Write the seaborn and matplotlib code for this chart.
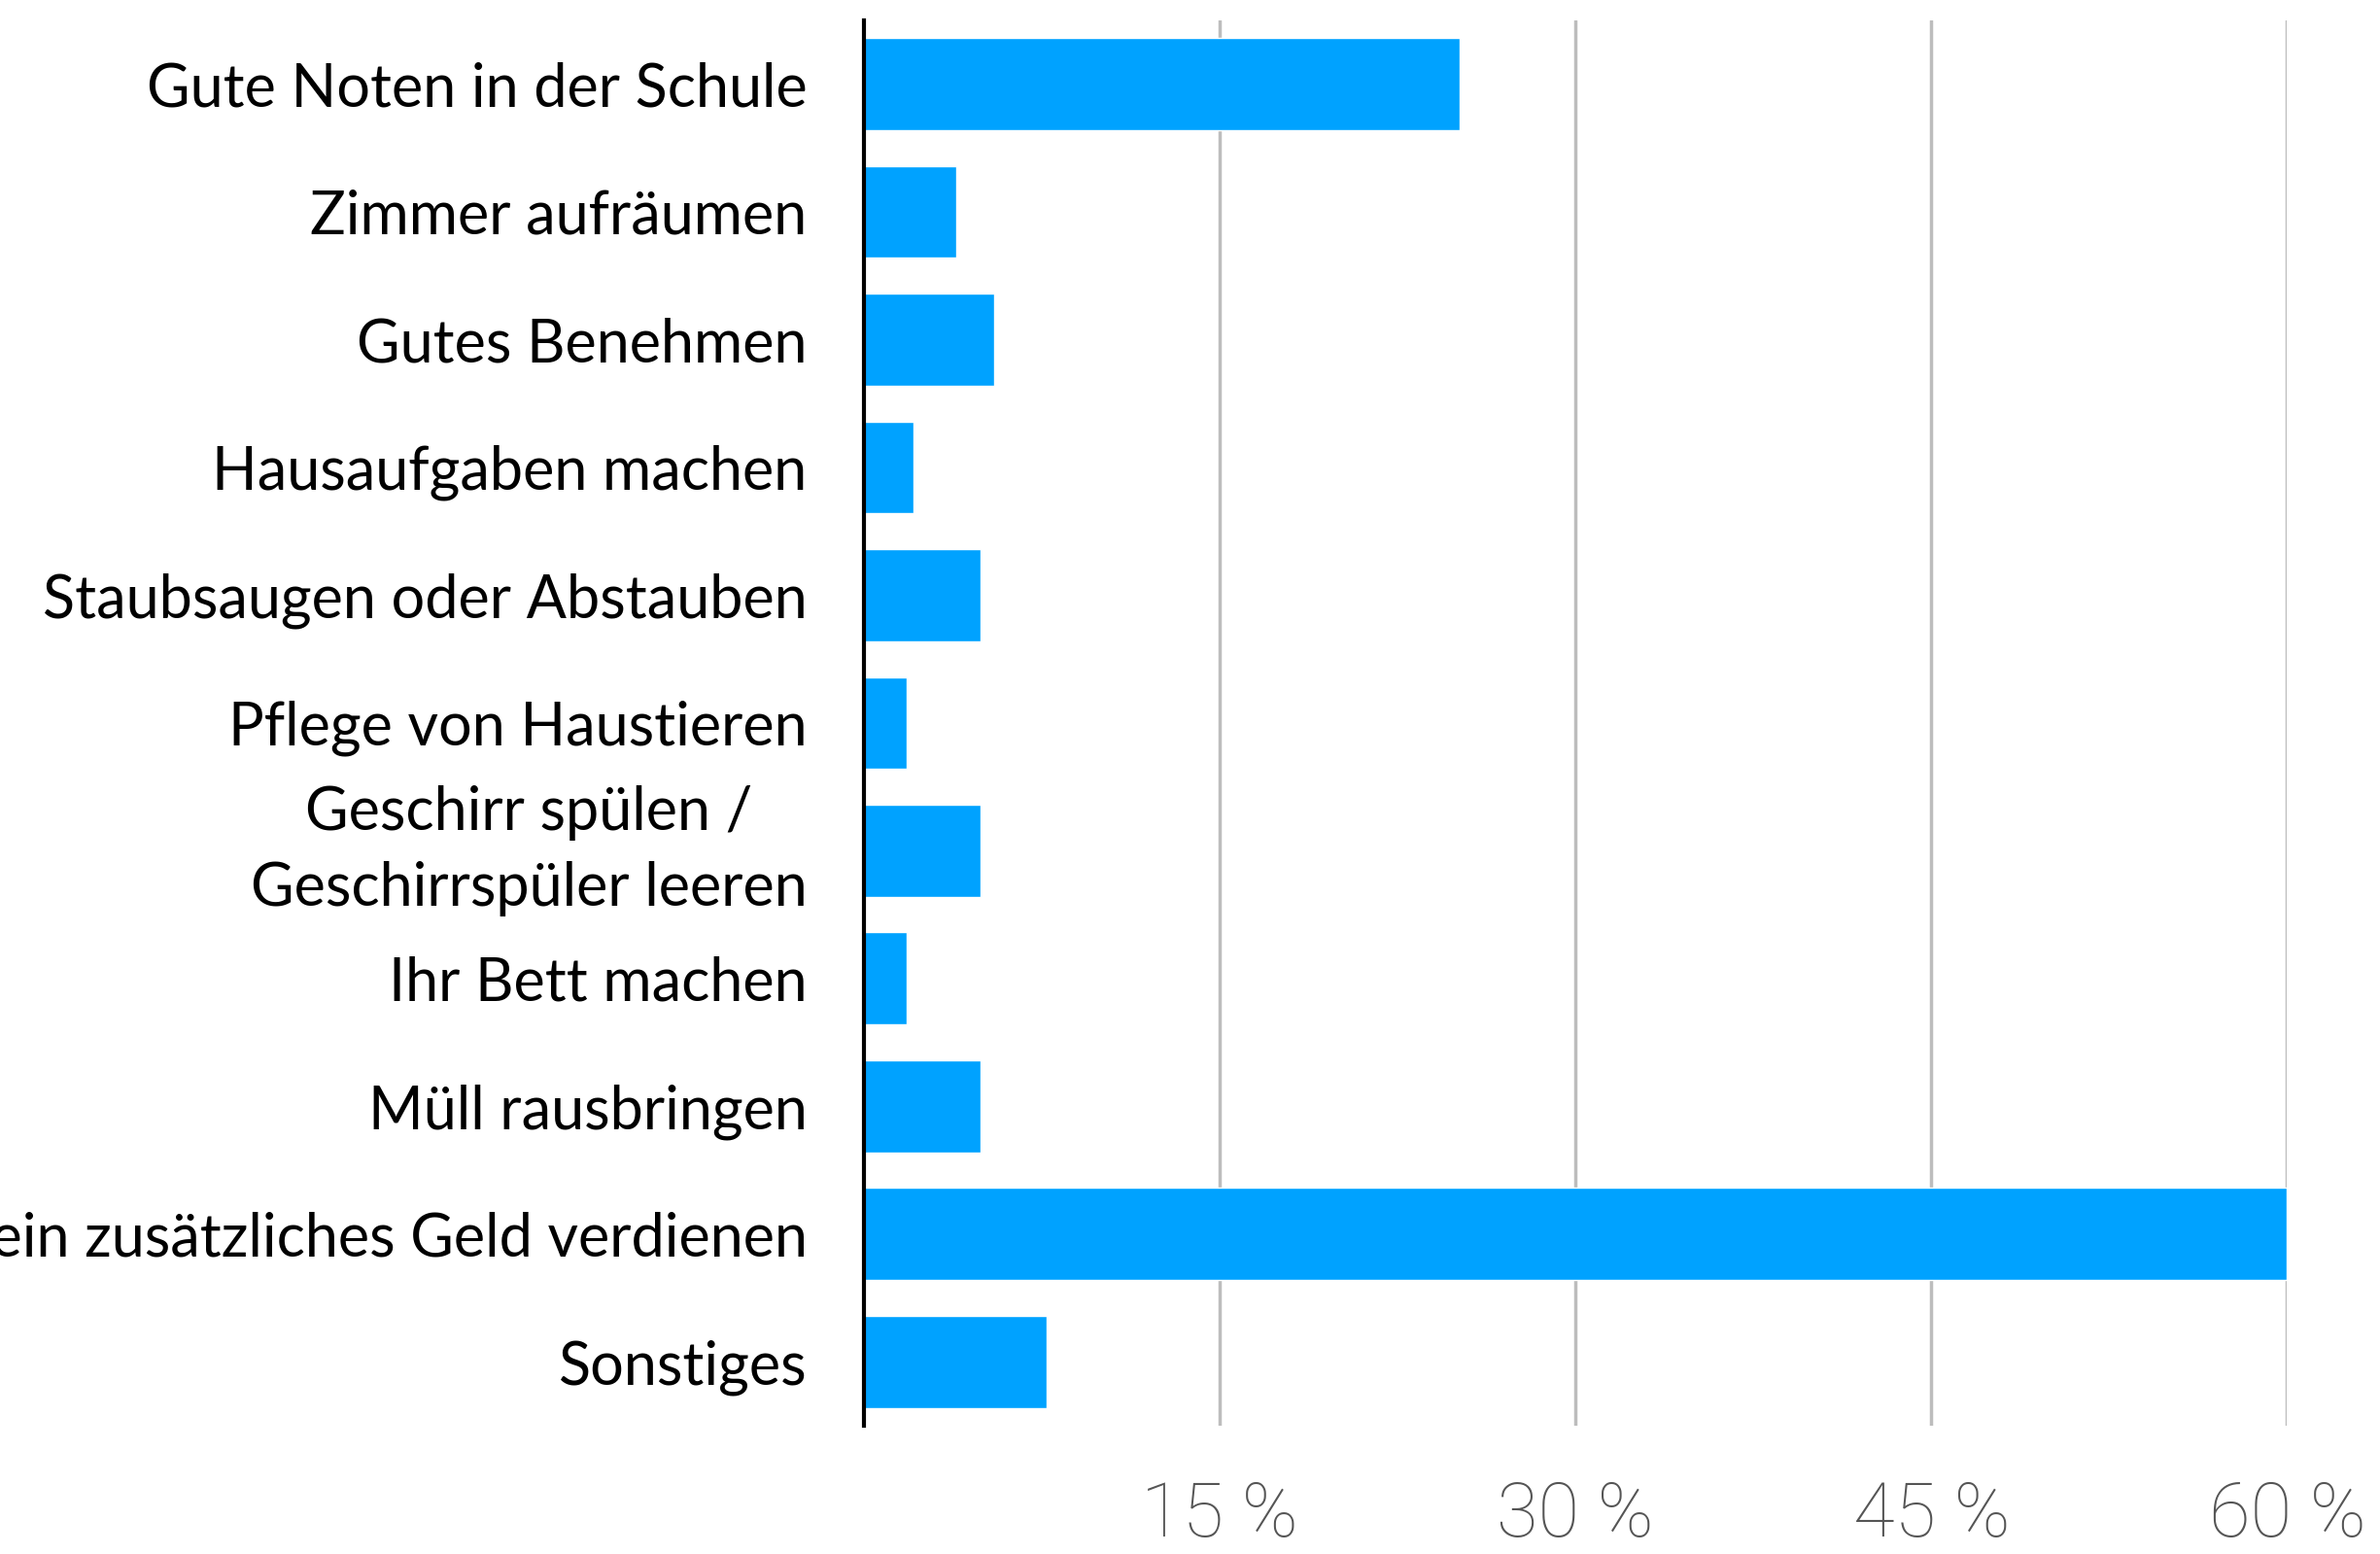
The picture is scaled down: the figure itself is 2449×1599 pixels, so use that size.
import matplotlib
matplotlib.use("Agg")
import matplotlib.pyplot as plt
import seaborn as sns
import pandas as pd

categories = [
    "Gute Noten in der Schule",
    "Zimmer aufräumen",
    "Gutes Benehmen",
    "Hausaufgaben machen",
    "Staubsaugen oder Abstauben",
    "Pflege von Haustieren",
    "Geschirr spülen /\nGeschirrspüler leeren",
    "Ihr Bett machen",
    "Müll rausbringen",
    "Kein zusätzliches Geld verdienen",
    "Sonstiges",
]
values = [25.1, 3.9, 5.5, 2.1, 4.9, 1.8, 4.9, 1.8, 4.9, 60.0, 7.7]
xticks = [15, 30, 45, 60]
xtick_labels = ["15 %", "30 %", "45 %", "60 %"]

df = pd.DataFrame({"cat": categories, "val": values})

sns.set_theme(style="white")
plt.rcParams["font.family"] = ["Lato", "DejaVu Sans"]

fig = plt.figure(figsize=(24.49, 15.99), dpi=100)
ax = fig.add_axes([0.363, 0.0826, 0.598, 0.9044])

sns.barplot(data=df, y="cat", x="val", orient="h", color="#00A2FF",
            saturation=1, width=0.72, ax=ax)

ax.set_xlim(0, 60)
ax.set_ylim(10.5, -0.5)
ax.set_xlabel("")
ax.set_ylabel("")

for x in xticks:
    ax.axvline(x, color="#BDBDBD", lw=2.5, zorder=0)

ax.set_xticks(xticks)
ax.set_xticklabels(xtick_labels, fontsize=56, color="#555555",
                   family=["Roboto", "DejaVu Sans"], fontweight="light")
ax.tick_params(axis="x", length=0, pad=40)
ax.tick_params(axis="y", length=0, pad=42)
ax.set_yticks(range(len(categories)))
ax.set_yticklabels(categories, fontsize=44, color="black")
for t in ax.get_yticklabels():
    if "\n" in t.get_text():
        t.set_multialignment("center")
        t.set_linespacing(1.45)
        t.set_verticalalignment("center")

for s in ["top", "right", "bottom"]:
    ax.spines[s].set_visible(False)
ax.spines["left"].set_color("black")
ax.spines["left"].set_linewidth(3)
ax.spines["left"].set_zorder(5)

fig.savefig("out.png", dpi=100)
